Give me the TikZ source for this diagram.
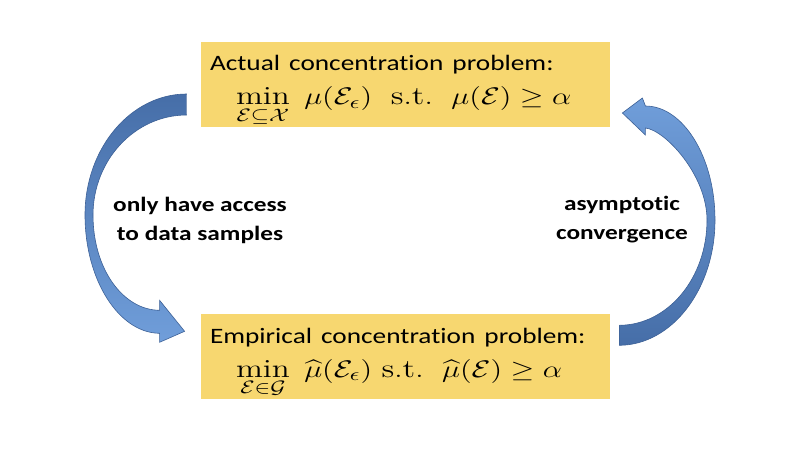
\documentclass[tikz,border=0pt]{standalone}
\usepackage{amsmath}
\usepackage{graphicx}
\usepackage{fontspec}
\usepackage{tikz}
\usetikzlibrary{positioning}
\newfontfamily\calibrifont[Ligatures=NoCommon]{Carlito}
\definecolor{probYellow}{RGB}{247,215,112}
\definecolor{flowDark}{RGB}{70,110,168}
\definecolor{flowLight}{RGB}{112,158,218}
\definecolor{flowEdge}{RGB}{60,96,150}
\newcommand{\wide}[1]{\scalebox{1.24}[1]{#1}}
\newcommand{\widemath}[1]{\scalebox{1.27}[1]{\fontsize{13}{15}\selectfont$\displaystyle #1$}}

\begin{document}
\begin{tikzpicture}[x=0.5pt, y=-0.5pt,
      prob/.style={fill=probYellow, minimum width=204.5pt, minimum height=42.5pt, inner xsep=4.5pt, inner ysep=0pt,
      text width=195.5pt, align=left, font=\fontsize{11}{13}\selectfont\calibrifont},
      side/.style={align=center, font=\fontsize{10.2}{14.5}\selectfont\calibrifont\bfseries},
      ribbon/.style={draw=flowEdge, line width=0.3pt}
    ]
    \path[use as bounding box, fill=white] (0,0) rectangle (808,455);

    \node[prob] (actual) at (405.5,84.5) {\rule{0pt}{14pt}\wide{Actual concentration problem:}\\[4pt]
      \hspace*{13pt}\widemath{\min_{\mathcal{E}\subseteq\mathcal{X}}\ \mu(\mathcal{E}_\epsilon)\ \ \mathrm{s.t.}\ \ \mu(\mathcal{E})\geq\alpha}};
    \node[prob, below=93pt of actual] (empirical) {\rule{0pt}{14pt}\wide{Empirical concentration problem:}\\[4pt]
      \hspace*{13pt}\widemath{\min_{\mathcal{E}\in\mathcal{G}}\ \widehat{\mu}(\mathcal{E}_\epsilon)\ \mathrm{s.t.}\ \ \widehat{\mu}(\mathcal{E})\geq\alpha}};

    \node[side] (access) at (200,220) {\wide{only have access}\\\wide{to data samples}};
    \node[side] (asympt) at (622,220) {\wide{asymptotic}\\\wide{convergence}};

    % left: actual -> empirical
    \draw[ribbon, top color=flowDark, bottom color=flowLight]
      ([shift={(-14,9.5)}]actual.west) .. controls (131,94) and (85,148) .. (85,215)
      .. controls (85,280) and (119,333) .. ([shift={(-41,-23)}]empirical.west)
      -- ([shift={(-41,-14)}]empirical.west) -- ([shift={(-16,-25)}]empirical.west)
      -- ([shift={(-41,-56)}]empirical.west) -- ([shift={(-41,-46)}]empirical.west)
      .. controls (123,310) and (93,269) .. (93,215)
      .. controls (93,160) and (135,115) .. ([shift={(-14,30.5)}]actual.west) -- cycle;

    % right: empirical -> actual
    \draw[ribbon, top color=flowLight, bottom color=flowDark]
      ([shift={(9,-11)}]empirical.east) .. controls (672,345) and (715,289) .. (715,220)
      .. controls (715,157) and (683,106) .. ([shift={(35,21.5)}]actual.east)
      -- ([shift={(32,13.5)}]actual.east) -- ([shift={(12,28.5)}]actual.east)
      -- ([shift={(35,50.5)}]actual.east) -- ([shift={(35,43.5)}]actual.east)
      .. controls (665,130) and (707,175) .. (707,220)
      .. controls (707,278) and (668,325) .. ([shift={(9,-31)}]empirical.east) -- cycle;
  \end{tikzpicture}
\end{document}
